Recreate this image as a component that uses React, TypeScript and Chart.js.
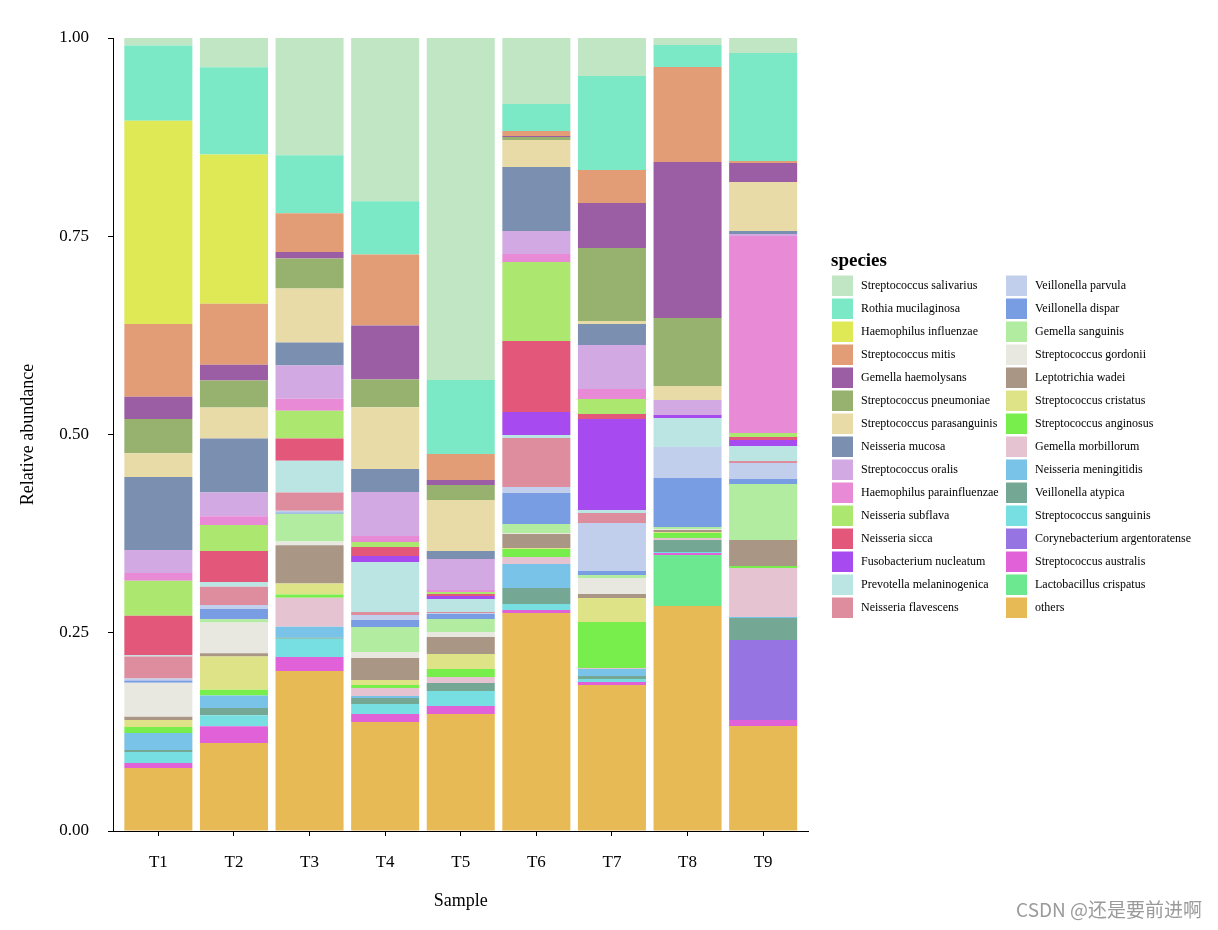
import React, { useEffect, useRef } from "react";
import { Chart, registerables } from "chart.js";

Chart.register(...registerables);

const samples = ["T1", "T2", "T3", "T4", "T5", "T6", "T7", "T8", "T9"];

const species = [
  "Streptococcus salivarius",
  "Rothia mucilaginosa",
  "Haemophilus influenzae",
  "Streptococcus mitis",
  "Gemella haemolysans",
  "Streptococcus pneumoniae",
  "Streptococcus parasanguinis",
  "Neisseria mucosa",
  "Streptococcus oralis",
  "Haemophilus parainfluenzae",
  "Neisseria subflava",
  "Neisseria sicca",
  "Fusobacterium nucleatum",
  "Prevotella melaninogenica",
  "Neisseria flavescens",
  "Veillonella parvula",
  "Veillonella dispar",
  "Gemella sanguinis",
  "Streptococcus gordonii",
  "Leptotrichia wadei",
  "Streptococcus cristatus",
  "Streptococcus anginosus",
  "Gemella morbillorum",
  "Neisseria meningitidis",
  "Veillonella atypica",
  "Streptococcus sanguinis",
  "Corynebacterium argentoratense",
  "Streptococcus australis",
  "Lactobacillus crispatus",
  "others",
];

const colors = [
  "#C1E6C4", "#7BE9C6", "#DEE955", "#E29D77", "#9B5EA5", "#97B26F",
  "#E8DBA8", "#7B8FB1", "#D3A9E3", "#E88AD6", "#ACE870", "#E3587A",
  "#A74BF0", "#BAE5E3", "#DD8D9E", "#C2CFEC", "#789DE3", "#B1ECA1",
  "#E8E8E1", "#A99685", "#DFE388", "#78EE4D", "#E5C3D0", "#79C2E8",
  "#74A894", "#77DFE1", "#9675E3", "#E061D8", "#6CE890", "#E8BA55",
];

// values per sample, in the legend order above
const T1 = [0.010, 0.095, 0.256, 0.092, 0.028, 0.043, 0.030, 0.092, 0.029, 0.010, 0.044, 0.050, 0, 0.0013, 0.028, 0.0025, 0.0026, 0, 0.043, 0.004, 0.009, 0.0075, 0, 0.0215, 0.0025, 0.0138, 0, 0.0064, 0, 0.0794];
const T2 = [0.038, 0.110, 0.188, 0.077, 0.020, 0.034, 0.039, 0.068, 0.030, 0.011, 0.033, 0.039, 0, 0.006, 0.023, 0.005, 0.013, 0.004, 0.039, 0.004, 0.042, 0.007, 0, 0.016, 0.009, 0.014, 0, 0.021, 0, 0.111];
const T3 = [0.149, 0.073, 0, 0.049, 0.008, 0.038, 0.068, 0.029, 0.042, 0.015, 0.035, 0.028, 0, 0.040, 0.023, 0.0025, 0.0013, 0.035, 0.005, 0.048, 0.014, 0.004, 0.0365, 0.014, 0.0013, 0.023, 0, 0.0176, 0, 0.2018];
const T4 = [0.2062, 0.067, 0, 0.0895, 0.068, 0.035, 0.078, 0.029, 0.0555, 0.0076, 0.0063, 0.0113, 0.0076, 0.063, 0.0038, 0.0063, 0.0088, 0.0316, 0.0075, 0.0278, 0.0063, 0.0038, 0.0101, 0.0025, 0.0075, 0.0127, 0, 0.010, 0, 0.1375];
const T5 = [0.4313, 0.0933, 0, 0.0328, 0.0063, 0.0189, 0.0643, 0.0101, 0.0391, 0.0025, 0.0025, 0.0026, 0.0037, 0.0164, 0.0013, 0.0013, 0.0063, 0.0164, 0.0063, 0.0214, 0.0189, 0.0101, 0.0076, 0, 0.0101, 0.0189, 0, 0.0101, 0, 0.1475];
const T6 = [0.0832, 0.0341, 0, 0.0063, 0.0012, 0.0038, 0.0341, 0.0807, 0.029, 0.0101, 0.0996, 0.0895, 0.029, 0.0038, 0.0618, 0.0076, 0.0391, 0.0113, 0.0013, 0.0176, 0.0013, 0.0101, 0.0088, 0.0303, 0.0201, 0.0076, 0, 0.0038, 0, 0.2749];
const T7 = [0.0479, 0.1186, 0, 0.0416, 0.0567, 0.0921, 0.0038, 0.0264, 0.0555, 0.0126, 0.0189, 0.0064, 0.1147, 0.0038, 0.0126, 0.0605, 0.0051, 0.0038, 0.0201, 0.0051, 0.0302, 0.0581, 0.0012, 0.0088, 0.0038, 0.0038, 0, 0.0038, 0, 0.1841];
const T8 = [0.0088, 0.0278, 0, 0.1198, 0.1967, 0.0857, 0.0177, 0, 0.0189, 0, 0, 0, 0.0038, 0.0366, 0, 0.0391, 0.0617, 0.0026, 0.0012, 0.0026, 0.0012, 0.0063, 0.0025, 0, 0.0152, 0.0012, 0, 0.0026, 0.0643, 0.2837];
const T9 = [0.0189, 0.1362, 0, 0.0025, 0.024, 0, 0.0618, 0.0038, 0.0025, 0.2484, 0.0051, 0.0037, 0.0076, 0.0189, 0.0025, 0.0202, 0.0063, 0.0706, 0, 0.0328, 0, 0.0025, 0.0618, 0.0013, 0.0277, 0, 0.1009, 0.0076, 0, 0.1324];

const sampleValues = [T1, T2, T3, T4, T5, T6, T7, T8, T9];

const yTickStep = 0.25;

const SERIF = '"Liberation Serif", "Times New Roman", serif';

export default function App() {
  const ref = useRef<HTMLCanvasElement>(null);

  useEffect(() => {
    if (!ref.current) return;

    const datasets = species
      .map((name, s) => ({
        label: name,
        data: samples.map((_, i) => {
          const v = sampleValues[i][s];
          return { x: i + 1, y: v === 0 ? null : v };
        }),
        backgroundColor: colors[s],
        borderWidth: 0,
        categoryPercentage: 1,
        barPercentage: 0.9,
      }))
      .reverse();

    const legendPlugin = {
      id: "speciesLegend",
      afterDraw(chart: any) {
        const ctx = chart.ctx as CanvasRenderingContext2D;
        ctx.save();
        ctx.fillStyle = "#000";
        ctx.textAlign = "left";
        ctx.textBaseline = "alphabetic";
        ctx.font = `bold 19px ${SERIF}`;
        ctx.fillText("species", 831, 266);
        ctx.font = `12px ${SERIF}`;
        ctx.textBaseline = "middle";
        species.forEach((name, i) => {
          const col = Math.floor(i / 15);
          const row = i % 15;
          const x = col === 0 ? 832 : 1006;
          const y = 275.5 + row * 23;
          ctx.fillStyle = colors[i];
          ctx.fillRect(x, y, 21, 20.5);
          ctx.fillStyle = "#000";
          ctx.fillText(name, x + 29, y + 10.5);
        });
        // watermark
        ctx.font = '19px "Noto Sans CJK SC", "Noto Sans", sans-serif';
        ctx.fillStyle = "#9a9a9a";
        ctx.textAlign = "right";
        ctx.fillText("CSDN @还是要前进啊", 1202, 910);
        ctx.restore();
      },
    };

    const chart = new Chart(ref.current, {
      type: "bar",
      data: { datasets: datasets as any },
      options: {
        animation: false,
        responsive: false,
        layout: { padding: { top: 38, right: 409.5, bottom: 0, left: 0 } },
        plugins: {
          legend: { display: false },
          tooltip: { enabled: false },
        },
        scales: {
          x: {
            type: "linear",
            stacked: true,
            offset: false,
            min: 0.4,
            max: 9.6,
            afterBuildTicks: (axis: any) => {
              axis.ticks = samples.map((_, i) => ({ value: i + 1 }));
            },
            afterFit: (s: any) => {
              s.height = 99;
            },
            ticks: {
              callback: (v: any) => samples[Number(v) - 1] ?? "",
              autoSkip: false,
              maxRotation: 0,
              padding: 16,
              color: "#000",
              font: { family: SERIF, size: 17 },
            },
            grid: {
              display: true,
              offset: false,
              drawOnChartArea: false,
              drawTicks: true,
              tickLength: 5,
              color: "#000",
              lineWidth: 1,
            },
            border: { display: true, color: "#000", width: 1 },
            title: {
              display: true,
              text: "Sample",
              color: "#000",
              font: { family: SERIF, size: 18 },
              padding: { top: 0, bottom: 18.2 },
            },
          } as any,
          y: {
            type: "linear",
            stacked: true,
            min: 0,
            max: 1,
            afterFit: (s: any) => {
              s.width = 113;
            },
            ticks: {
              stepSize: yTickStep,
              callback: (v: any) => Number(v).toFixed(2),
              padding: 19,
              color: "#000",
              font: { family: SERIF, size: 17 },
            },
            grid: {
              display: true,
              drawOnChartArea: false,
              drawTicks: true,
              tickLength: 5,
              color: "#000",
              lineWidth: 1,
            },
            border: { display: true, color: "#000", width: 1 },
            title: {
              display: true,
              text: "Relative abundance",
              color: "#000",
              font: { family: SERIF, size: 18 },
              padding: { top: 17.2, bottom: 0 },
            },
          } as any,
        },
      },
      plugins: [legendPlugin],
    });

    return () => chart.destroy();
  }, []);

  return (
    <div
      style={{
        position: "absolute",
        left: 0,
        top: 0,
        width: 1218,
        height: 930,
        background: "#fff",
      }}
    >
      <canvas ref={ref} width={1218} height={930} style={{ display: "block" }} />
    </div>
  );
}
